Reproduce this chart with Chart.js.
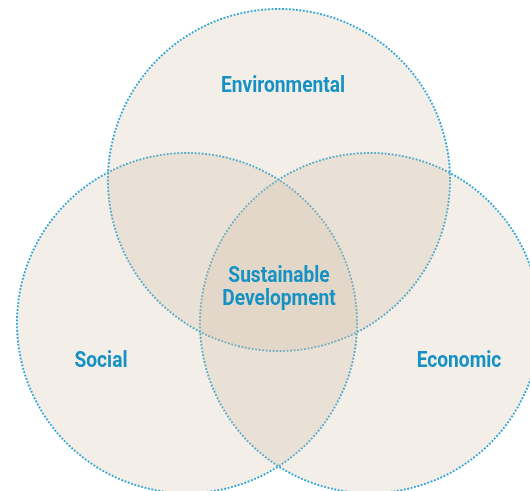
<!DOCTYPE html>
<html>
<head>
<meta charset="utf-8">
<script src="https://cdn.jsdelivr.net/npm/chart.js@4/dist/chart.umd.min.js"></script>
<style>
html,body{margin:0;padding:0;background:#ffffff;}
#wrap{width:530px;height:491px;position:relative;}
</style>
</head>
<body>
<div id="wrap"><canvas id="c"></canvas></div>
<script>
// Venn circles (centre and radius, in chart units = pixels)
const circleNames = ['Environmental', 'Social', 'Economic'];
const circleX = [279, 187, 370];
const circleY = [180, 323, 323];
const circleR = [171, 170, 170];

// Text labels (baseline of last line)
const labelLines = [['Environmental'], ['Social'], ['Economic'], ['Sustainable', 'Development']];
const labelX = [283, 101, 459, 279];
const labelY = [92, 367, 367, 305];

const points = circleNames.map((n, i) => ({x: circleX[i], y: circleY[i], r: circleR[i]}));

const dotted = {
  id: 'dotted',
  beforeDatasetDraw(chart, args) {
    if (args.index === 1) {
      chart.ctx.save();
      chart.ctx.setLineDash([1.9, 1.6]);
    }
  },
  afterDatasetDraw(chart, args) {
    if (args.index === 1) chart.ctx.restore();
  }
};

const textPlugin = {
  id: 'venntext',
  afterDatasetsDraw(chart) {
    const ctx = chart.ctx;
    const xs = chart.scales.x, ys = chart.scales.y;
    ctx.save();
    ctx.fillStyle = '#1592c3';
    ctx.textAlign = 'center';
    ctx.textBaseline = 'alphabetic';
    ctx.font = 'bold 22px Roboto, "Liberation Sans", sans-serif';
    const k = 124 / ctx.measureText('Environmental').width;
    labelLines.forEach((lines, i) => {
      const px = xs.getPixelForValue(labelX[i]);
      const py = ys.getPixelForValue(labelY[i]);
      const lh = 23;
      lines.forEach((t, j) => {
        ctx.save();
        ctx.translate(px, py - (lines.length - 1 - j) * lh);
        ctx.scale(k, 1);
        ctx.fillText(t, 0, 0);
        ctx.restore();
      });
    });
    ctx.restore();
  }
};

new Chart(document.getElementById('c'), {
  type: 'bubble',
  data: {
    datasets: [
      {
        label: 'fill',
        data: points,
        backgroundColor: 'rgba(207,187,163,0.25)',
        borderWidth: 0,
        borderColor: 'rgba(0,0,0,0)',
        clip: false
      },
      {
        label: 'outline',
        data: points,
        backgroundColor: 'rgba(0,0,0,0)',
        borderColor: '#1aa2d8',
        borderWidth: 1.9,
        clip: false
      }
    ]
  },
  options: {
    responsive: true,
    maintainAspectRatio: false,
    animation: false,
    events: [],
    layout: {padding: 0, autoPadding: false},
    plugins: {legend: {display: false}, tooltip: {enabled: false}},
    scales: {
      x: {type: 'linear', min: 0, max: 530, display: false},
      y: {type: 'linear', min: 0, max: 491, reverse: true, display: false}
    }
  },
  plugins: [dotted, textPlugin]
});
</script>
</body>
</html>
